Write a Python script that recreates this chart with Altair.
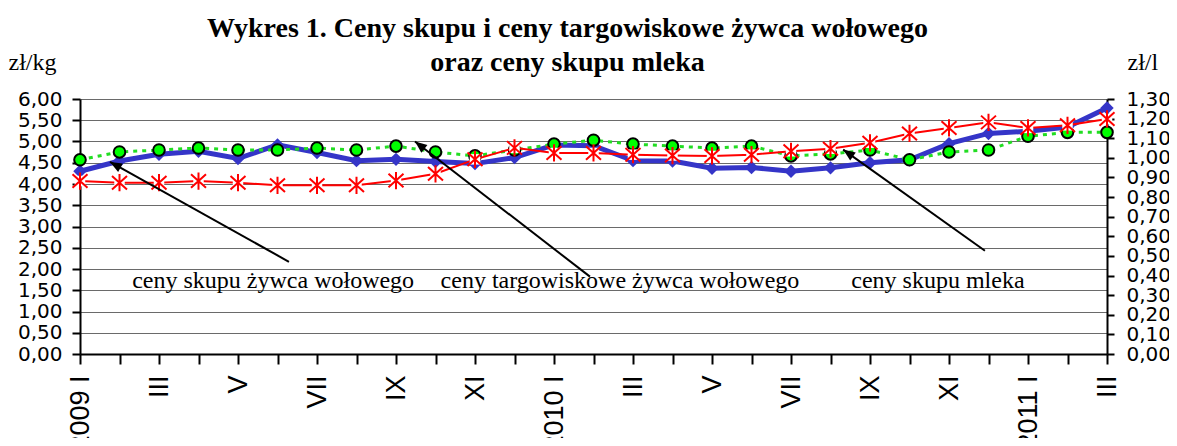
import json
import altair as alt
import pandas as pd

# ---------------- data ----------------
month_idx = list(range(27))
x_tick_labels = ["2009 I", "", "III", "", "V", "", "VII", "", "IX", "", "XI", "",
                 "2010 I", "", "III", "", "V", "", "VII", "", "IX", "", "XI", "",
                 "2011 I", "", "III"]

# ceny skupu żywca wołowego (zł/kg, left axis)
beef_purchase = [4.30, 4.54, 4.70, 4.77, 4.60, 4.92, 4.74, 4.55, 4.58, 4.53, 4.48, 4.62,
                 4.92, 4.90, 4.55, 4.54, 4.37, 4.39, 4.30, 4.38, 4.50, 4.57, 4.95, 5.19,
                 5.24, 5.34, 5.79]
# ceny targowiskowe żywca wołowego (zł/kg, left axis)
beef_market = [4.07, 4.03, 4.03, 4.07, 4.03, 3.97, 3.97, 3.97, 4.08, 4.24, 4.58, 4.85,
               4.73, 4.73, 4.69, 4.67, 4.66, 4.69, 4.77, 4.83, 4.97, 5.19, 5.32, 5.45,
               5.32, 5.38, 5.53]
# ceny skupu mleka (zł/l, right axis)
milk_purchase = [0.99, 1.03, 1.04, 1.05, 1.04, 1.04, 1.05, 1.04, 1.06, 1.03, 1.01, 1.04,
                 1.07, 1.09, 1.07, 1.06, 1.05, 1.06, 1.01, 1.02, 1.04, 0.99, 1.03, 1.04,
                 1.11, 1.13, 1.13]

left_ticks = [i * 0.5 for i in range(13)]
right_ticks = [round(i * 0.1, 1) for i in range(14)]

label_texts = ["ceny skupu żywca wołowego", "ceny targowiskowe żywca wołowego", "ceny skupu mleka"]
label_x = [4.89, 13.67, 21.72]
label_y = [1.56, 1.56, 1.56]

arrow_from_x = [5.29, 12.91, 22.91]
arrow_from_y = [2.17, 1.82, 2.43]
arrow_to_x = [0.76, 8.48, 19.32]
arrow_to_y = [4.52, 5.00, 4.81]
arrow_angle = [299, 308, 305]

title_lines = ["Wykres 1. Ceny skupu i ceny targowiskowe żywca wołowego",
               "oraz ceny skupu mleka"]

# ---------------- styles ----------------
BLUE = "#3535C8"
RED = "#FF0000"
GREEN_FILL = "#00FF00"
GREEN_LINE = "#22DD22"
W, H = 1027, 255

df = pd.DataFrame({"idx": month_idx, "beef": beef_purchase,
                   "market": beef_market, "milk": milk_purchase})
labels_df = pd.DataFrame({"t": label_texts, "x": label_x, "y": label_y})
arrows_df = pd.DataFrame({"x": arrow_from_x, "y": arrow_from_y,
                          "x2": arrow_to_x, "y2": arrow_to_y, "a": arrow_angle})

x_scale = alt.Scale(domain=[0, 26], nice=False, zero=False)
left_scale = alt.Scale(domain=[0, 6], nice=False)
right_scale = alt.Scale(domain=[0, 1.3], nice=False)
comma_fmt = "replace(format(datum.value, '.2f'), '.', ',')"

x_axis = alt.Axis(values=month_idx,
                  labelExpr=json.dumps(x_tick_labels, ensure_ascii=False) + "[datum.value]",
                  labelAngle=-90, labelAlign="right", labelBaseline="middle",
                  labelFont="Liberation Sans", labelFontSize=27, labelColor="black",
                  labelPadding=11, labelOverlap=False, labelFlush=False, labelBound=False,
                  tickSize=10, tickColor="black", tickWidth=2,
                  domainColor="black", domainWidth=2, grid=False, title=None)

left_axis = alt.Axis(values=left_ticks, labelExpr=comma_fmt, orient="left",
                     labelFont="DejaVu Sans", labelFontSize=20, labelColor="black",
                     labelPadding=10, labelOverlap=False, labelFlush=False, labelBound=False,
                     tickSize=8, tickColor="black", tickWidth=2,
                     domainColor="black", domainWidth=2,
                     grid=True, gridColor="#6a6a6a", gridWidth=1,
                     title="zł/kg", titleAngle=0, titleAlign="left", titleBaseline="alphabetic",
                     titleX=-72, titleY=-30, titleFont="Liberation Serif", titleFontSize=24,
                     titleFontWeight="normal", titleColor="black")

right_axis = alt.Axis(values=right_ticks, labelExpr=comma_fmt, orient="right",
                      labelFont="DejaVu Sans", labelFontSize=20, labelColor="black",
                      labelPadding=12, labelOverlap=False, labelFlush=False, labelBound=False,
                      tickSize=7, tickColor="black", tickWidth=2,
                      domainColor="black", domainWidth=2, grid=False,
                      title="zł/l", titleAngle=0, titleAlign="left", titleBaseline="alphabetic",
                      titleX=20, titleY=-30, titleFont="Liberation Serif", titleFontSize=24,
                      titleFontWeight="normal", titleColor="black")

base = alt.Chart(df)
X = alt.X("idx:Q", scale=x_scale, axis=x_axis)
Y_beef = alt.Y("beef:Q", scale=left_scale, axis=left_axis)
Y_milk = alt.Y("milk:Q", scale=right_scale, axis=right_axis)

blue_group = alt.layer(
    base.mark_line(color=BLUE, strokeWidth=5).encode(x=X, y=Y_beef),
    base.mark_point(shape="diamond", filled=True, size=180, color=BLUE, opacity=1).encode(
        x=X, y=Y_beef),
)

green_group = alt.layer(
    base.mark_line(color=GREEN_LINE, strokeWidth=3, strokeDash=[4, 5]).encode(x=X, y=Y_milk),
    base.mark_point(shape="circle", filled=True, size=135, fill=GREEN_FILL, color=GREEN_FILL,
                    stroke="black", strokeWidth=2, opacity=1).encode(x=X, y=Y_milk),
)

Y_market = alt.Y("market:Q", scale=left_scale, axis=None)
star_path = "M-1,-0.9L1,0.9M-1,0.9L1,-0.9M0,-1.15L0,1.15"
red_group = alt.layer(
    base.mark_line(color=RED, strokeWidth=2).encode(x=X, y=Y_market),
    base.mark_point(shape="square", filled=True, size=110, color="white", opacity=1).encode(
        x=X, y=Y_market),
    base.mark_point(shape=star_path, filled=False, size=225, stroke=RED, strokeWidth=2,
                    opacity=1).encode(x=X, y=Y_market),
)

arrow_path = "M0,0L-0.65,1.6L0.65,1.6Z"
Y_ann = alt.Y("y:Q", scale=left_scale, axis=None)
annot_group = alt.layer(
    alt.Chart(arrows_df).mark_rule(color="black", strokeWidth=2).encode(
        x=alt.X("x:Q", scale=x_scale, axis=x_axis), y=Y_ann,
        x2="x2:Q", y2="y2:Q"),
    alt.Chart(arrows_df).mark_point(shape=arrow_path, filled=True, size=225, color="black",
                                    opacity=1).encode(
        x=alt.X("x2:Q", scale=x_scale, axis=x_axis),
        y=alt.Y("y2:Q", scale=left_scale, axis=None),
        angle=alt.Angle("a:Q", scale=None)),
    alt.Chart(labels_df).mark_text(font="Liberation Serif", fontSize=24, color="black",
                                   align="center", baseline="alphabetic").encode(
        x=alt.X("x:Q", scale=x_scale, axis=x_axis), y=Y_ann,
        text="t:N"),
)

chart = alt.layer(blue_group, green_group, red_group, annot_group).resolve_scale(
    y="independent"
).properties(
    width=W, height=H,
    autosize=alt.AutoSizeParams(type="none"),
    padding={"left": 72, "top": 91, "right": 62, "bottom": 84},
    title=alt.TitleParams(text=title_lines, font="Liberation Serif", fontSize=28,
                          fontWeight="bold", color="black", anchor="middle",
                          lineHeight=34, dx=-26, dy=31, offset=4),
).configure_view(stroke=None).configure(background="white")

chart.save("out.html", embed_options={"renderer": "svg", "actions": False})
